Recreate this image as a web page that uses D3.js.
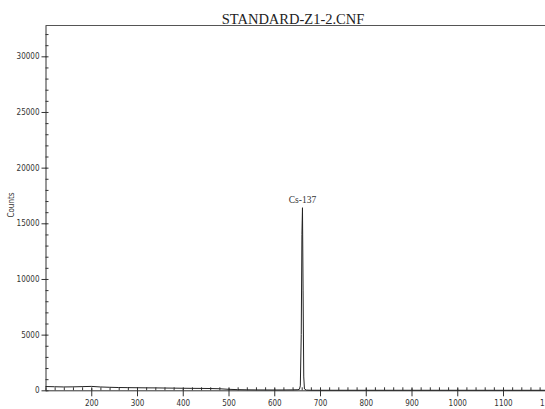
<!DOCTYPE html>
<meta charset="utf-8">
<style>
body { margin: 0; background: #fff; }
.axis text { font: 8px "DejaVu Sans", sans-serif; font-stretch: condensed; fill: #333; }
.axis path, .axis line { stroke: #333; }
.title { font: 14.5px "Liberation Serif", "Times New Roman", serif; fill: #222; }
.peak { font: 9.5px "Liberation Serif", "Times New Roman", serif; fill: #333; }
.ylab { font: 8px "DejaVu Sans", sans-serif; font-stretch: condensed; fill: #333; }
</style>
<svg width="545" height="409"></svg>
<script src="https://d3js.org/d3.v7.min.js"></script>
<script>

// spectrum (energy in keV, counts)
var energies = [100, 120, 140, 160, 180, 200, 220, 240, 260, 280, 300, 320, 340, 360, 380, 400, 420, 440, 460, 480,
                500, 520, 540, 560, 580, 600, 620, 640, 650, 655, 657, 659, 660.5, 661.7, 663, 664.5, 666, 670, 680,
                700, 800, 900, 1000, 1100, 1200, 1300];
var counts = [340, 320, 300, 310, 330, 350, 300, 270, 250, 240, 230, 220, 215, 205, 195, 185, 175, 170, 160, 140,
              90, 60, 45, 35, 30, 28, 30, 40, 50, 90, 400, 5000, 14000, 16400, 9000, 1200, 120, 20, 5,
              4, 3, 2, 2, 1, 1, 1];

var xMajor = [200, 300, 400, 500, 600, 700, 800, 900, 1000, 1100, 1200];
var yMajor = [0, 5000, 10000, 15000, 20000, 25000, 30000];
var peakLabel = { energy: 661.7, counts: 16400, text: "Cs-137" };
var title = "STANDARD-Z1-2.CNF";

var svg = d3.select("svg");

var x = d3.scaleLinear().domain([100, 1300]).range([45.5, 45.5 + 1200 * 0.4575]);
var y = d3.scaleLinear().domain([0, 32768]).range([390.3, 25.5]);

var data = energies.map(function(e, i) { return { e: e, c: counts[i] }; });

// minor ticks (inside)
svg.append("g")
  .attr("class", "axis")
  .attr("transform", "translate(0," + y(0) + ")")
  .call(d3.axisBottom(x).tickValues(d3.range(100, 1301, 20)).tickSize(-3).tickFormat(""))
  .call(function(g) { g.select(".domain").remove(); });

svg.append("g")
  .attr("class", "axis")
  .attr("transform", "translate(" + x(100) + ",0)")
  .call(d3.axisLeft(y).tickValues(d3.range(0, 32001, 1000)).tickSize(-3).tickFormat(""))
  .call(function(g) { g.select(".domain").remove(); });

// major ticks with labels
var xAxis = svg.append("g")
  .attr("class", "axis")
  .attr("transform", "translate(0," + y(0) + ")")
  .call(d3.axisBottom(x).tickValues(xMajor).tickSize(6).tickSizeOuter(0).tickPadding(4).tickFormat(d3.format("d")));
xAxis.selectAll(".tick line").attr("y1", -2);

var yAxis = svg.append("g")
  .attr("class", "axis")
  .attr("transform", "translate(" + x(100) + ",0)")
  .call(d3.axisLeft(y).tickValues(yMajor).tickSize(4).tickSizeOuter(0).tickPadding(2).tickFormat(d3.format("d")));
yAxis.selectAll(".tick line").attr("x1", -4).attr("x2", 1);

// top border
svg.append("line")
  .attr("x1", x(100)).attr("x2", 545)
  .attr("y1", y(32768)).attr("y2", y(32768))
  .attr("stroke", "#555");

// spectrum
svg.append("path")
  .datum(data)
  .attr("fill", "none")
  .attr("stroke", "#222")
  .attr("stroke-width", 1)
  .attr("d", d3.line().x(function(d) { return x(d.e); }).y(function(d) { return y(d.c); }));

svg.append("text")
  .attr("class", "peak")
  .attr("x", x(peakLabel.energy))
  .attr("y", y(peakLabel.counts) - 5)
  .attr("text-anchor", "middle")
  .text(peakLabel.text);

svg.append("text")
  .attr("class", "title")
  .attr("x", 293)
  .attr("y", 24)
  .attr("text-anchor", "middle")
  .text(title);

svg.append("text")
  .attr("class", "ylab")
  .attr("transform", "translate(14,205) rotate(-90)")
  .attr("text-anchor", "middle")
  .text("Counts");

</script>
